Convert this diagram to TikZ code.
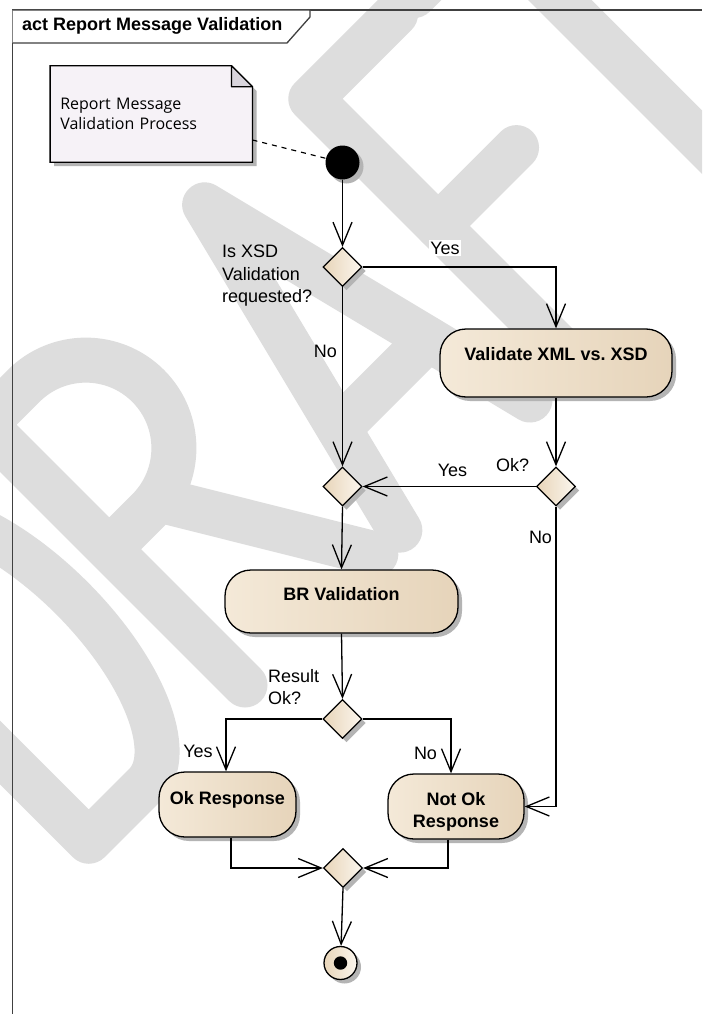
\documentclass[tikz,border=0pt]{standalone}
\usepackage{fontspec}
\setmainfont{Liberation Sans}
\newfontfamily\notefont{Open Sans}
\usetikzlibrary{shapes.geometric,arrows.meta,shadows,backgrounds}
\pgfdeclarelayer{wmlayer}
\pgfsetlayers{wmlayer,background,main}
\definecolor{wm}{HTML}{DDDDDD}
\definecolor{actL}{HTML}{F4E9D8}
\definecolor{actM}{HTML}{FBF5EC}
\definecolor{actR}{HTML}{E6D4BA}
\definecolor{decL}{HTML}{E8D5B9}
\definecolor{decR}{HTML}{FBF6EE}
\definecolor{noteF}{HTML}{F6F2F7}
\definecolor{noteD}{HTML}{D8D4DC}
\definecolor{frameC}{HTML}{404040}
\definecolor{shadowC}{HTML}{B4B4B4}
\tikzset{
  wmstroke/.style={draw=wm, line width=45pt, line cap=round, line join=round},
  shd/.style={drop shadow={shadow xshift=4pt, shadow yshift=-4pt, fill=shadowC, opacity=1}},
  action/.style={draw=black, line width=1.3pt, rounded corners=26pt, left color=actL, middle color=actM, right color=actR,
    font=\bfseries\fontsize{18}{22}\selectfont, inner sep=0pt, shd},
  decision/.style={diamond, draw=black, line width=1.3pt, minimum size=39pt, inner sep=0pt, left color=decL, right color=decR, shd},
  flow/.style={draw=black, line width=1.3pt, -{Straight Barb[length=23pt, width=19pt, line width=1.3pt]}},
  elabel/.style={font=\fontsize{18}{22.5}\selectfont, inner sep=0pt},
  framestyle/.style={draw=frameC, line width=1.3pt},
}
\begin{document}
\begin{tikzpicture}[x=1pt, y=-1pt]
\useasboundingbox (0,0) rectangle (702,1014);
% watermark
\begin{pgfonlayer}{wmlayer}
  \fill[white] (0,0) rectangle (702,1014);
  \begin{scope}
    \clip (0,0) rectangle (702,1014);
    \begin{scope}[shift={(245,685)}, y=1pt, rotate=45]
      % D
      \draw[wmstroke] (-221,0) -- (-221,368) -- (-141,368) arc[start angle=90, end angle=-90, x radius=80, y radius=184] -- cycle;
      % R
      \draw[wmstroke] (0,0) -- (0,368) -- (55,368) arc[start angle=90, end angle=-90, radius=88] -- (0,192);
      \draw[wmstroke] (70,192) -- (185,0);
      % A
      \draw[wmstroke] (219,0) -- (311,368) -- (403,0);
      \draw[wmstroke] (248,115) -- (374,115);
      % F
      \draw[wmstroke] (461,0) -- (461,368) -- (581,368);
      \draw[wmstroke] (461,188) -- (572,188);
      % T
      \draw[wmstroke] (707,0) -- (707,368);
      \draw[wmstroke] (607,368) -- (807,368);
    \end{scope}
  \end{scope}
\end{pgfonlayer}

% frame
\draw[framestyle] (12.5,1014) -- (12.5,10) -- (702,10);
\draw[framestyle, fill=white] (12.5,10) -- (310,10) -- (310,17) -- (287,43) -- (12.5,43);
\node[anchor=base west, font=\bfseries\fontsize{18}{22}\selectfont, inner sep=0pt] (title) at (22,31) {act Report Message Validation};

% note
\node[minimum width=202pt, minimum height=96pt, text width=182pt, align=left, inner sep=0pt,
      font=\notefont\fontsize{16}{20}\selectfont] (note) at (151.3,114) {Report Message\\Validation Process};
\begin{scope}[on background layer]
  \fill[shadowC] ([xshift=4pt,yshift=-4pt]note.north west) -- ([xshift=-17pt,yshift=-4pt]note.north east)
     -- ([xshift=4pt,yshift=-25pt]note.north east) -- ([xshift=4pt,yshift=-4pt]note.south east)
     -- ([xshift=4pt,yshift=-4pt]note.south west) -- cycle;
  \draw[line width=1.3pt, fill=noteF] (note.north west) -- ([xshift=-21pt]note.north east)
     -- ([yshift=-21pt]note.north east) -- (note.south east) -- (note.south west) -- cycle;
  \draw[line width=1.3pt, fill=noteD, line join=round] ([xshift=-21pt]note.north east)
     -- ([xshift=-21pt,yshift=-21pt]note.north east) -- ([yshift=-21pt]note.north east) -- cycle;
\end{scope}

% nodes
\node[circle, fill=black, minimum size=34pt, inner sep=0pt, shd] (init) at (342.5,162.5) {};
\node[decision] (d1) at (342.5,267) {};
\node[action, minimum width=232pt, minimum height=68pt] (val) at (556,363) {\raisebox{2.3pt}[0pt][0pt]{Validate XML vs.\ XSD}};
\node[decision] (okq) at (556,486.5) {};
\node[decision] (merge) at (342.5,486.5) {};
\node[action, minimum width=233pt, minimum height=63pt] (br) at (341.5,601.5) {\raisebox{1.5pt}[0pt][0pt]{BR Validation}};
\node[decision] (res) at (342.5,719) {};
\node[action, minimum width=137pt, minimum height=65pt] (ok) at (227.5,804.5) {\raisebox{0.5pt}[0pt][0pt]{Ok Response}};
\node[action, minimum width=136pt, minimum height=65pt] (notok) at (456,806.5) {\raisebox{0.8pt}[0pt][0pt]{\parbox[t]{130pt}{\centering Not Ok\\Response}}};
\node[decision] (fin) at (343,868) {};
\node[circle, draw=black, line width=1.3pt, minimum size=33pt, inner sep=0pt, left color=decL, right color=decR, shd] (end) at (340.5,963) {};
\fill[black] (end.center) circle (6.7);

% connectors
\draw[line width=1.2pt, dash pattern=on 5pt off 5pt] ([yshift=-26pt]note.east) -- (init);
\draw[flow] (init) -- (d1);
\draw[flow] (d1.east) -| (val.north);
\draw[flow] (d1.south) -- (merge.north);
\draw[flow] (val.south) -- (okq.north);
\draw[flow] (okq.west) -- (merge.east);
\draw[flow] (okq.south) |- (notok.east);
\draw[flow] (merge.south) -- (br.north);
\draw[flow] (br.south) -- (res.north);
\draw[flow] (res.west) -| ([xshift=-1.5pt]ok.north);
\draw[flow] (res.east) -| ([xshift=-5pt]notok.north);
\draw[flow] ([xshift=3.5pt]ok.south) |- (fin.west);
\draw[flow] ([xshift=-8pt]notok.south) |- (fin.east);
\draw[flow] (fin.south) -- (end);

% labels
\node[elabel, fill=white, inner sep=1.5pt] (lyes1) at (445,248) {Yes};
\node[elabel, anchor=north west, align=left] (lq1) at (222,245) {Is XSD\\Validation\\requested?};
\node[elabel] (lno1) at (325.5,351) {No};
\node[elabel] (lok) at (512.5,465.5) {Ok?};
\node[elabel] (lyes2) at (452.5,470) {Yes};
\node[elabel] (lno2) at (540.5,537) {No};
\node[elabel, anchor=north west, align=left] (lres) at (268,669) {Result\\Ok?};
\node[elabel] (lyes3) at (198,751.5) {Yes};
\node[elabel] (lno3) at (425.5,753) {No};
\end{tikzpicture}
\end{document}
